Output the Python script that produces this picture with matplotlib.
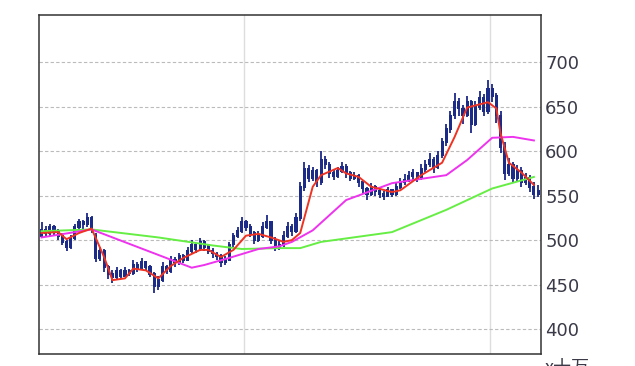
import matplotlib
matplotlib.use("Agg")
import matplotlib.pyplot as plt
import numpy as np

# daily candles (yen)
opens = [505, 512, 508, 515, 510, 505, 498, 492, 502, 515, 520, 518, 525, 505, 480, 488, 470, 462, 458, 465,
         460, 465, 463, 472, 468, 475, 470, 462, 448, 455, 470, 465, 478, 475, 482, 478, 488, 495, 490, 498,
         492, 488, 485, 482, 475, 478, 495, 505, 510, 520, 515, 508, 500, 505, 515, 520, 500, 492, 495, 505,
         515, 510, 525, 560, 580, 570, 578, 565, 590, 585, 575, 572, 578, 582, 575, 570, 572, 565, 558, 552,
         560, 555, 552, 550, 556, 552, 560, 565, 568, 572, 575, 570, 580, 585, 590, 582, 595, 610, 625, 640,
         655, 648, 640, 655, 630, 650, 660, 645, 670, 662, 640, 605, 575, 585, 570, 578, 565, 570, 560, 552]
highs = [520, 516, 518, 517, 512, 508, 500, 506, 518, 524, 523, 530, 527, 508, 492, 490, 472, 466, 470, 467,
         470, 468, 478, 475, 480, 477, 472, 464, 460, 475, 472, 482, 481, 486, 484, 492, 500, 497, 502, 500,
         495, 491, 487, 484, 482, 498, 508, 515, 526, 523, 518, 510, 510, 520, 528, 522, 503, 500, 510, 520,
         518, 530, 565, 588, 584, 582, 580, 600, 595, 588, 580, 582, 588, 585, 578, 576, 574, 567, 560, 564,
         562, 558, 555, 560, 558, 564, 570, 574, 578, 580, 577, 585, 590, 598, 593, 600, 615, 630, 645, 665,
         660, 652, 662, 658, 656, 668, 664, 680, 676, 665, 645, 610, 592, 588, 584, 582, 575, 573, 565, 562]
lows = [502, 504, 505, 506, 500, 494, 488, 490, 500, 512, 512, 515, 508, 475, 476, 464, 456, 452, 455, 456,
        458, 460, 461, 464, 466, 465, 458, 440, 444, 453, 462, 463, 470, 472, 474, 476, 485, 486, 488, 488,
        484, 480, 478, 470, 472, 476, 492, 502, 508, 510, 504, 496, 498, 502, 512, 496, 488, 489, 492, 502,
        505, 508, 522, 555, 565, 566, 560, 562, 580, 570, 568, 570, 575, 570, 566, 567, 560, 552, 545, 550,
        550, 547, 545, 548, 548, 550, 558, 562, 565, 568, 565, 568, 577, 582, 575, 580, 592, 606, 620, 636,
        640, 630, 638, 620, 628, 646, 640, 642, 655, 632, 598, 568, 572, 564, 566, 560, 562, 554, 546, 548]
closes = [512, 508, 515, 510, 505, 498, 492, 502, 515, 520, 518, 525, 512, 480, 488, 470, 462, 458, 465, 460,
          465, 463, 472, 468, 475, 470, 462, 448, 455, 470, 465, 478, 475, 482, 478, 488, 495, 490, 498, 492,
          488, 485, 482, 475, 478, 495, 505, 510, 520, 515, 508, 500, 505, 515, 520, 500, 492, 495, 505, 515,
          510, 525, 560, 580, 570, 578, 565, 590, 585, 575, 572, 578, 582, 575, 570, 572, 565, 558, 552, 560,
          555, 552, 550, 556, 552, 560, 565, 568, 572, 575, 570, 580, 585, 590, 582, 595, 610, 625, 640, 655,
          648, 640, 655, 630, 650, 660, 645, 670, 662, 640, 605, 575, 585, 570, 578, 565, 570, 560, 552, 555]

# moving averages sampled at day indices
ma_short_day = [0, 4, 6, 9, 12, 15, 17, 20, 22, 25, 28, 31, 34, 38, 40, 43, 46, 49, 52, 55, 58, 60, 62, 65,
                67, 71, 73, 76, 79, 84, 86, 91, 96, 99, 102, 107, 109, 110, 112, 115, 118]
ma_short = [508, 509, 501, 508, 513, 481, 455, 457, 468, 466, 457, 471, 480, 489, 489, 481, 489, 505, 507,
            503, 498, 500, 508, 560, 573, 581, 575, 571, 560, 554, 556, 573, 587, 616, 649, 655, 648, 620, 587,
            576, 562]
ma_mid_day = [0, 12, 36, 39, 45, 52, 57, 60, 65, 73, 84, 97, 102, 108, 113, 118]
ma_mid = [503, 512, 469, 472, 480, 490, 493, 498, 511, 545, 564, 573, 590, 615, 616, 612]
ma_long_day = [0, 12, 28, 41, 48, 57, 62, 67, 84, 97, 108, 118]
ma_long = [510, 512, 503, 494, 490, 491, 491, 498, 509, 534, 558, 571]

yticks = [400, 450, 500, 550, 600, 650, 700]
month_lines = [48.5, 107.5]

plt.rcParams["font.family"] = ["DejaVu Sans", "Noto Sans CJK JP"]

fig = plt.figure(figsize=(6.35, 3.66), dpi=100)
ax = fig.add_axes([39 / 635, 12 / 366, 502 / 635, 339 / 366])

days = np.arange(len(closes))
candle_color = "#1c2a88"
body_lo = np.minimum(opens, closes)
body_hi = np.maximum(opens, closes)
ax.vlines(days, lows, highs, color=candle_color, linewidth=1.3, zorder=2)
ax.bar(days, body_hi - body_lo + 2, bottom=body_lo - 1, width=0.75,
       color=candle_color, linewidth=0, zorder=2)

ax.plot(ma_long_day, ma_long, color="#66ee44", linewidth=1.4, zorder=3)
ax.plot(ma_mid_day, ma_mid, color="#ee33ee", linewidth=1.4, zorder=3)
ax.plot(ma_short_day, ma_short, color="#ee3322", linewidth=1.4, zorder=4)

ax.set_xlim(-0.6, len(closes) - 0.3)
ax.set_ylim(372, 753)
ax.set_yticks(yticks)
ax.set_xticks(month_lines)
ax.set_xticklabels([])
ax.yaxis.tick_right()
ax.tick_params(axis="both", length=0)
ax.tick_params(axis="y", labelsize=13, labelcolor="#3a3a48", pad=3)
ax.grid(axis="y", color="#bbbbbb", linestyle=(0, (3, 2)), linewidth=0.8, zorder=0)
ax.grid(axis="x", color="#dddddd", linestyle="-", linewidth=1.0, zorder=0)
for spine in ax.spines.values():
    spine.set_color("#333333")
    spine.set_linewidth(1.1)

# unit label under the price axis, partly cut off by the image edge as in the source
fig.text(545 / 635, 1 - 359 / 366, "x十万", fontsize=13, color="#3a3a48",
         va="top", ha="left", family=["Noto Sans CJK JP", "DejaVu Sans"])

fig.savefig("out.png", dpi=100)
